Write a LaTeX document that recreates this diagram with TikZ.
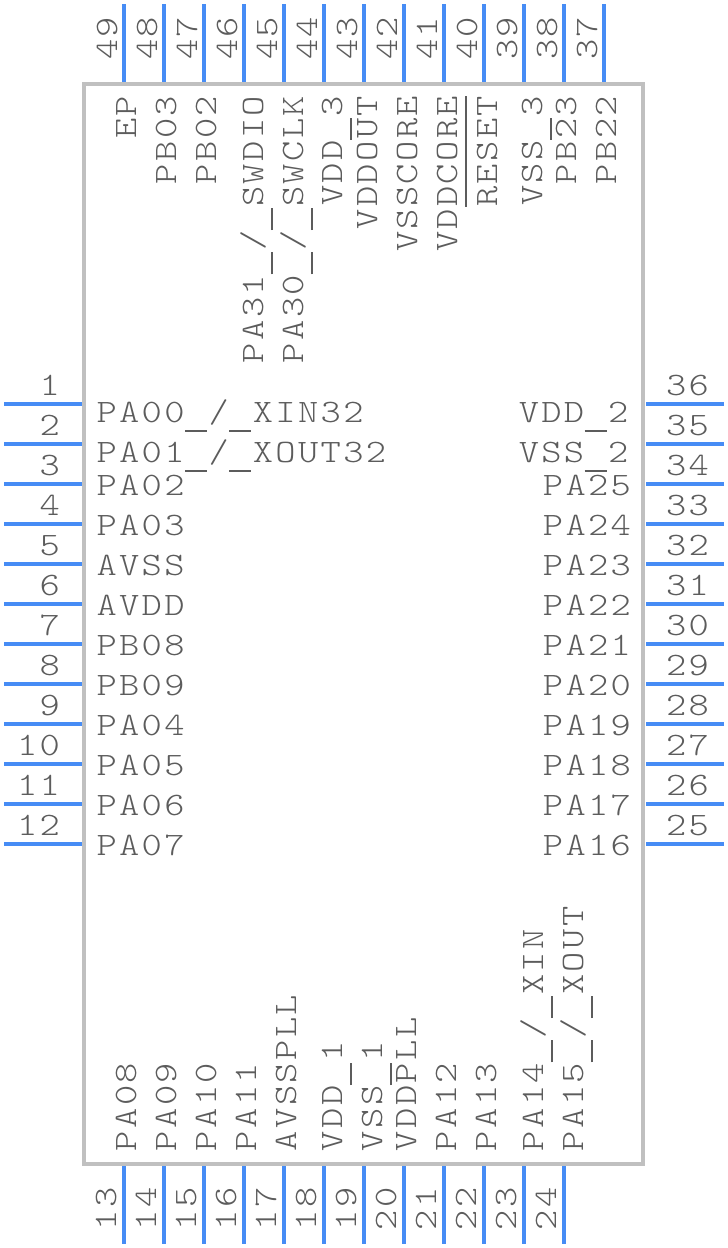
\documentclass[tikz,border=0pt]{standalone}
\usepackage{fontspec}
\newfontfamily\pinfont[FakeStretch=1.18,LetterSpace=7.2]{Latin Modern Mono Light}
\newcommand{\usc}{\leavevmode\kern0.5pt\raisebox{-9.5pt}{\rule{22pt}{1.5pt}}\kern1.5pt}
\definecolor{pinblue}{RGB}{70,140,245}
\definecolor{boxgray}{RGB}{192,192,192}
\definecolor{txtgray}{RGB}{92,92,92}
\tikzset{
  x=1pt,y=-1pt,
  pinline/.style={draw=pinblue,line width=4pt},
  body/.style={draw=boxgray,line width=4pt},
  lab/.style={inner sep=0pt,outer sep=0pt,text=txtgray,font=\pinfont\fontsize{32.7}{33}\selectfont},
  ltxt/.style={lab,anchor=base west},
  rtxt/.style={lab,anchor=base east},
  ttxt/.style={lab,rotate=90,anchor=base east},
  btxt/.style={lab,rotate=90,anchor=base west},
}
\begin{document}
\begin{tikzpicture}
\useasboundingbox (0,0) rectangle (728,1248);
\draw[body] (84,84) rectangle (643,1164);
% left pins
\foreach \n/\t/\o [count=\i from 0] in {1/{PA00\usc/\usc XIN32}/18,2/{PA01\usc/\usc XOUT32}/18,3/PA02/11,4/PA03/11,5/AVSS/11,6/AVDD/11,7/PB08/11,8/PB09/11,9/PA04/11,10/PA05/11,11/PA06/11,12/PA07/11}{
  \pgfmathsetmacro\yy{404+40*\i}
  \pgfmathsetmacro\yt{404+40*\i+\o}
  \draw[pinline] (4,\yy) -- (82,\yy);
  \node[rtxt] (n\n) at (60,\yy-9) {\n};
  \node[ltxt] (l\n) at (96.5,\yt) {\t};
}
% right pins
\foreach \n/\t/\o [count=\i from 0] in {36/{VDD\usc 2}/18,35/{VSS\usc 2}/18,34/PA25/11,33/PA24/11,32/PA23/11,31/PA22/11,30/PA21/11,29/PA20/11,28/PA19/11,27/PA18/11,26/PA17/11,25/PA16/11}{
  \pgfmathsetmacro\yy{404+40*\i}
  \pgfmathsetmacro\yt{404+40*\i+\o}
  \pgfmathsetmacro\xr{\o==18?628.5:631}
  \draw[pinline] (646,\yy) -- (724,\yy);
  \node[ltxt] (n\n) at (666,\yy-9) {\n};
  \node[rtxt] (l\n) at (\xr,\yt) {\t};
}
% top pins
\foreach \n/\t/\o [count=\i from 0] in {49/EP/12,48/PB03/12,47/PB02/12,46/{PA31\usc/\usc SWDIO}/19,45/{PA30\usc/\usc SWCLK}/19,44/{VDD\usc 3}/18,43/VDDOUT/13,42/VSSCORE/13,41/VDDCORE/13,40/RESET/13,39/{VSS\usc 3}/18,38/PB23/12,37/PB22/12}{
  \pgfmathsetmacro\xx{124+40*\i}
  \pgfmathsetmacro\xt{124+40*\i+\o}
  \draw[pinline] (\xx,4) -- (\xx,82);
  \node[ttxt] (n\n) at (\xx-7,17) {\n};
  \node[ttxt] (l\n) at (\xt,96) {\t};
}
\draw[txtgray,line width=1.5pt] (466,96) -- (466,207);
% bottom pins
\foreach \n/\t/\o [count=\i from 0] in {13/PA08/12,14/PA09/12,15/PA10/12,16/PA11/12,17/AVSSPLL/12,18/{VDD\usc 1}/18,19/{VSS\usc 1}/18,20/VDDPLL/12,21/PA12/12,22/PA13/12,23/{PA14\usc/\usc XIN}/19,24/{PA15\usc/\usc XOUT}/19}{
  \pgfmathsetmacro\xx{124+40*\i}
  \pgfmathsetmacro\xt{124+40*\i+\o}
  \draw[pinline] (\xx,1166) -- (\xx,1244);
  \node[btxt] (n\n) at (\xx-8,1230) {\n};
  \node[btxt] (l\n) at (\xt,1151) {\t};
}
\end{tikzpicture}
\end{document}
